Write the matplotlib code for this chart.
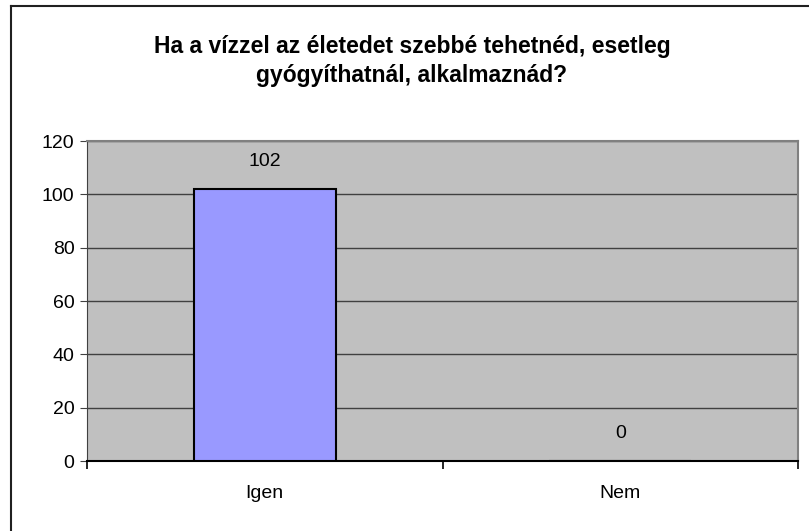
import matplotlib.pyplot as plt
from matplotlib.lines import Line2D

# Adatok
categories = ['Igen', 'Nem']
values = [102, 0]
title = 'Ha a vízzel az életedet szebbé tehetnéd, esetleg\ngyógyíthatnál, alkalmaznád?'
yticks = [0, 20, 40, 60, 80, 100, 120]

plt.rcParams['font.family'] = ['Liberation Sans', 'DejaVu Sans']

fig = plt.figure(figsize=(8.09, 5.31), dpi=100)
ax = fig.add_axes([87 / 809, 70 / 531, 711 / 809, 320 / 531])
ax.set_facecolor('#c0c0c0')

x = list(range(len(categories)))
bars = ax.bar(x, values, width=0.4, color='#9999ff', edgecolor='black', linewidth=1.5, zorder=3)

# adatfeliratok
for xi, v in zip(x, values):
    ax.annotate(str(v), (xi, v), xytext=(0, 20), textcoords='offset points',
                ha='center', va='center', fontsize=14)

ax.set_xlim(-0.5, 1.5)
ax.set_ylim(0, 120)
ax.set_yticks(yticks)
ax.yaxis.grid(True, color='#404040', linewidth=1, zorder=1)
ax.set_axisbelow(True)
ax.tick_params(axis='y', labelsize=14, length=5, direction='out', pad=4, color='#404040')

# kategória-határok tickjei, címkék középen
ax.set_xticks([-0.5, 0.5, 1.5])
ax.set_xticklabels([])
ax.tick_params(axis='x', which='major', length=6, direction='out', color='black', width=1.2)
ax.set_xticks(x, minor=True)
ax.set_xticklabels(categories, minor=True)
ax.tick_params(axis='x', which='minor', length=0, labelsize=14, pad=17)

for side in ['top', 'right']:
    ax.spines[side].set_color('#808080')
    ax.spines[side].set_linewidth(1.5)
ax.spines['left'].set_color('#404040')
ax.spines['bottom'].set_color('black')
ax.spines['bottom'].set_linewidth(1.5)

fig.text(412 / 809, 1 - 61 / 531, title, ha='center', va='center', fontsize=16.5,
         fontweight='bold', linespacing=1.35)

# diagram kerete
fig.add_artist(Line2D([11 / 809, 11 / 809], [0, 1 - 6 / 531], color='#202020', linewidth=1.5))
fig.add_artist(Line2D([11 / 809, 1], [1 - 6 / 531, 1 - 6 / 531], color='#202020', linewidth=1.5))

fig.savefig('out.png', dpi=100)
